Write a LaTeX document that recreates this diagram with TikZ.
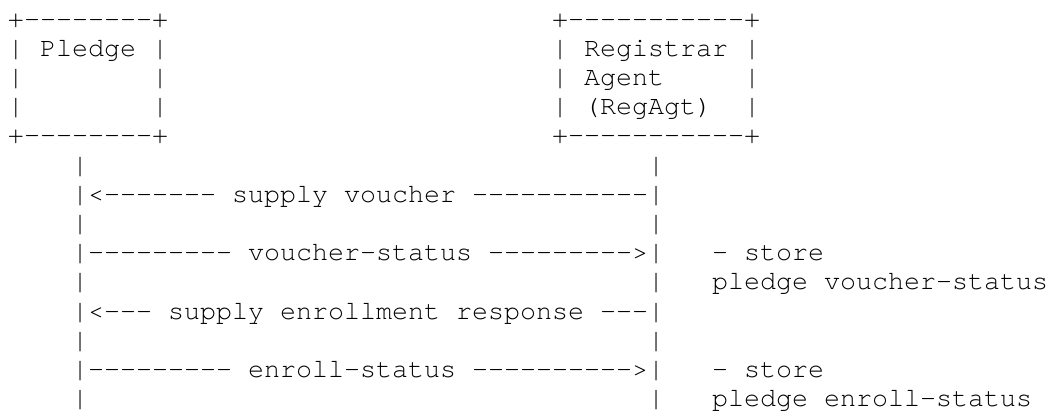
\documentclass[tikz,border=0pt]{standalone}
\usepackage{fontspec}
\setmonofont{texgyrecursor-regular.otf}
\usepackage{tikz}

\begin{document}
\begin{tikzpicture}[x=16pt, y=-29.2pt,
    asc/.style={anchor=base west, inner sep=0pt, outer sep=0pt,
                font=\ttfamily\fontsize{26.67pt}{29.2pt}\selectfont}]

    \useasboundingbox (0,0) rectangle (65.5625,14.11);

    % the two boxes
    \node[asc] (pledgeTop) at (0.5,0.925) {+--------+};
    \node[asc] (pledgeName) at (0.5,1.925) {| Pledge |};
    \node[asc] (pledgeBot) at (0.5,4.925) {+--------+};
    \node[asc] (agentTop) at (34.5,0.925) {+-----------+};
    \node[asc] (agentName) at (34.5,1.925) {| Registrar |};
    \node[asc] (agentName2) at (34.5,2.925) {| Agent};
    \node[asc] (agentName3) at (34.5,3.925) {| (RegAgt)};
    \node[asc] (agentBot) at (34.5,4.925) {+-----------+};
    \foreach \r in {3,4} {
        \node[asc] (pledgeL\r) at (0.5,\r-.075) {|};
        \node[asc] (pledgeR\r) at (9.5,\r-.075) {|};
    }
    \node[asc] (agentR3) at (46.5,2.925) {|};
    \node[asc] (agentR4) at (46.5,3.925) {|};

    % lifelines
    \foreach \r in {6,8,10,12,14} {
        \node[asc] (lineL\r) at (4.5,\r-.075) {|};
        \node[asc] (lineR\r) at (40.5,\r-.075) {|};
    }

    % messages
    \node[asc] (supplyVoucher) at (4.5,6.925) {|<------- supply voucher -----------|};
    \node[asc] (voucherStatus) at (4.5,8.925) {|--------- voucher-status --------->|};
    \node[asc] (supplyEnroll) at (4.5,10.925) {|<--- supply enrollment response ---|};
    \node[asc] (enrollStatus) at (4.5,12.925) {|--------- enroll-status ---------->|};

    % notes beside the agent
    \node[asc] (storeA) at (44.5,8.925) {- store};
    \node[asc] (storeA2) at (44.5,9.925) {pledge voucher-status};
    \node[asc] (storeB) at (44.5,12.925) {- store};
    \node[asc] (storeB2) at (44.5,13.925) {pledge enroll-status};
\end{tikzpicture}
\end{document}
